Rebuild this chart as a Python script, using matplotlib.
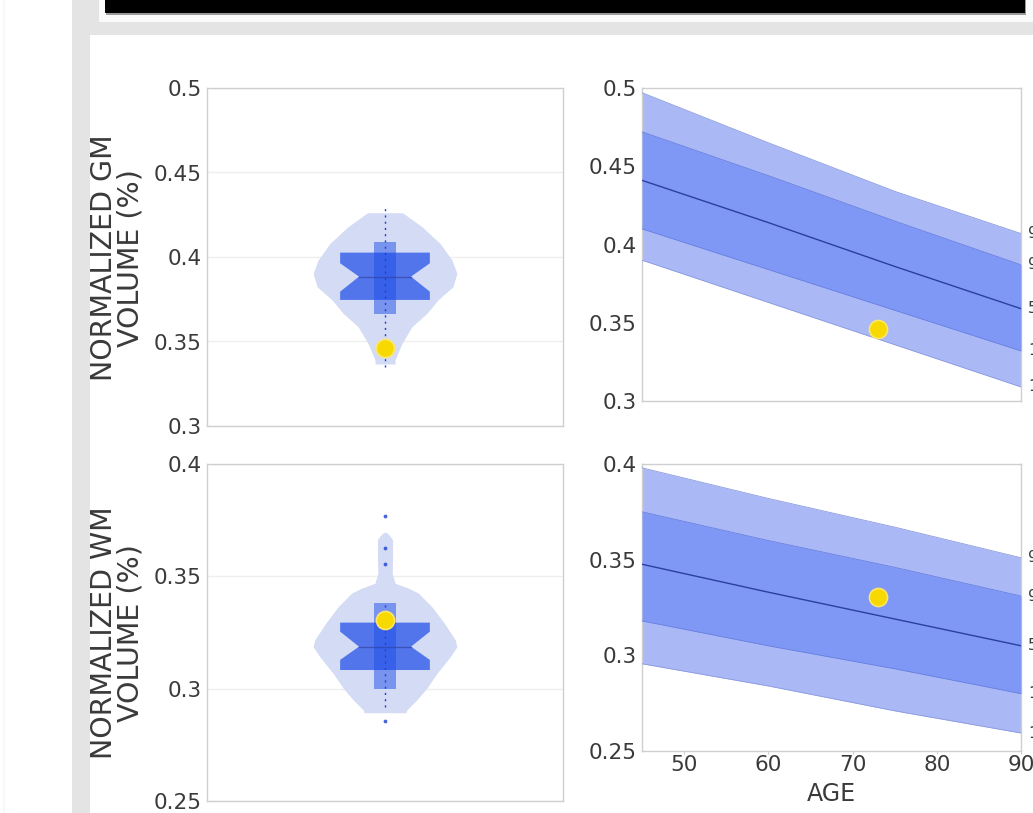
import matplotlib
matplotlib.use("Agg")
import matplotlib.pyplot as plt
from matplotlib.patches import Rectangle, Polygon
import numpy as np

plt.rcParams["font.family"] = ["DejaVu Sans"]

# ---------------- data ----------------
# GM violin profile (value, relative density)
gm_violin_vals = [0.4262, 0.4179, 0.4081, 0.3982, 0.3903, 0.3824, 0.3746, 0.3667, 0.3588, 0.3489, 0.3391, 0.3367]
gm_violin_dens = [0.243, 0.514, 0.764, 0.931, 1.000, 0.944, 0.736, 0.583, 0.375, 0.236, 0.139, 0.139]
gm_q1, gm_median, gm_q3 = 0.3746, 0.3884, 0.4026
gm_notch_lo, gm_notch_hi = 0.3795, 0.3963
gm_ci_lo, gm_ci_hi = 0.366, 0.409
gm_range = [0.335, 0.430]
gm_subject = 0.3460

# WM violin profile
wm_violin_vals = [0.3695, 0.3680, 0.3662, 0.3587, 0.3513, 0.3469, 0.3447, 0.3425, 0.3365, 0.3291,
                  0.3217, 0.3187, 0.3142, 0.3068, 0.3002, 0.2950, 0.2905, 0.2893]
wm_violin_dens = [0.02, 0.07, 0.105, 0.105, 0.10, 0.14, 0.33, 0.465, 0.65, 0.826,
                  0.977, 1.000, 0.907, 0.721, 0.581, 0.442, 0.302, 0.291]
wm_q1, wm_median, wm_q3 = 0.3083, 0.3187, 0.3294
wm_notch_lo, wm_notch_hi = 0.3128, 0.3254
wm_ci_lo, wm_ci_hi = 0.300, 0.338
wm_range = [0.292, 0.338]
wm_outliers = [0.2855, 0.3555, 0.3626, 0.3770]
wm_subject = 0.3306

# normative curves vs age
ages = [45, 60, 75, 90]
gm_p99 = [0.497, 0.465, 0.434, 0.407]
gm_p90 = [0.472, 0.444, 0.415, 0.387]
gm_p50 = [0.441, 0.414, 0.386, 0.359]
gm_p10 = [0.410, 0.384, 0.358, 0.332]
gm_p01 = [0.390, 0.363, 0.336, 0.309]

wm_p99 = [0.398, 0.382, 0.367, 0.351]
wm_p90 = [0.375, 0.360, 0.346, 0.331]
wm_p50 = [0.3476, 0.333, 0.319, 0.305]
wm_p10 = [0.318, 0.305, 0.293, 0.280]
wm_p01 = [0.2956, 0.284, 0.271, 0.2594]

subject_age = 73
pct_labels = ["99", "90", "50", "10", "1"]

gm_yticks = [0.3, 0.35, 0.4, 0.45, 0.5]
gm_yticklabels = ["0.3", "0.35", "0.4", "0.45", "0.5"]
wm_yticks = [0.25, 0.3, 0.35, 0.4]
wm_yticklabels = ["0.25", "0.3", "0.35", "0.4"]
age_ticks = [50, 60, 70, 80, 90]

# ---------------- style ----------------
W, H = 1033, 813
fig = plt.figure(figsize=(W / 100, H / 100), dpi=100)
fig.patch.set_facecolor("white")

def rect_px(x0, y0, x1, y1, z, **kw):
    fig.patches.append(Rectangle((x0 / W, 1 - y1 / H), (x1 - x0) / W, (y1 - y0) / H,
                                 transform=fig.transFigure, figure=fig, zorder=z, **kw))

def ax_px(l, t, r, b):
    ax = fig.add_axes([l / W, 1 - b / H, (r - l) / W, (b - t) / H])
    ax.set_zorder(5)
    return ax

GREY = "#e4e4e4"
rect_px(72, 0, W, H, -10, facecolor=GREY, edgecolor="none")
rect_px(90, 35, W, H, -9, facecolor="white", edgecolor="none")
rect_px(99, 0, W, 22, -9, facecolor="#fafafa", edgecolor="none")
rect_px(106, 0, 1026, 15, -8, facecolor="#9a9a9a", edgecolor="none")
rect_px(105, 0, 1025, 13, -7, facecolor="black", edgecolor="none")
rect_px(3, 0, 5, H, -9, facecolor="#f3f9fd", edgecolor="none")

TXT = "#3a3a3a"
SPINE = "#cfcfcf"
VIOLIN = "#d3dbf5"
BOX = "#5375ec"
CI = "#1f4fe8"
OUTER = "#aab9f5"
INNER = "#7f98f5"
MEDLINE = "#2c3f9e"
YELLOW = "#f7d900"

def style_axes(ax):
    for s in ax.spines.values():
        s.set_color(SPINE)
        s.set_linewidth(1.0)
    ax.tick_params(axis="y", length=0, labelsize=15.5, colors=TXT, pad=4)
    ax.tick_params(axis="x", length=0, labelsize=15.5, colors=TXT)

def violin(ax, vals, dens, q1, med, q3, nlo, nhi, cilo, cihi, rng, outliers, subj):
    c = 1.0
    scale = 0.202
    v = np.array(vals)
    d = np.array(dens) * scale
    ax.fill_betweenx(v, c - d, c + d, color=VIOLIN, lw=0, zorder=2)
    bw, nw = 0.126, 0.073
    poly = [(c - bw, q3), (c + bw, q3), (c + bw, nhi), (c + nw, med), (c + bw, nlo),
            (c + bw, q1), (c - bw, q1), (c - bw, nlo), (c - nw, med), (c - bw, nhi)]
    ax.add_patch(Polygon(poly, closed=True, facecolor=BOX, edgecolor="none", zorder=3))
    ax.add_patch(Rectangle((c - 0.03, cilo), 0.06, cihi - cilo, facecolor=CI,
                           alpha=0.5, edgecolor="none", zorder=4))
    ax.plot([c - nw, c + nw], [med, med], color=MEDLINE, lw=1.0, alpha=0.6, zorder=5)
    ax.plot([c, c], rng, color="#2040d0", lw=1.0, ls=(0, (1.5, 3)), zorder=5)
    if outliers:
        ax.plot([c] * len(outliers), outliers, ls="none", marker="o", ms=1.8,
                color="#2040d0", alpha=0.7, zorder=5)
    ax.plot([c], [subj], ls="none", marker="o", ms=13, color=YELLOW,
            markeredgecolor="#fbe66a", markeredgewidth=1.2, zorder=6)
    ax.set_xlim(0.5, 1.5)
    ax.set_xticks([])
    ax.yaxis.grid(True, color="#efefef", lw=1.0)
    ax.set_axisbelow(True)
    style_axes(ax)

def bands(ax, p99, p90, p50, p10, p01, subj):
    ax.fill_between(ages, p01, p99, color=OUTER, lw=0, zorder=2)
    ax.fill_between(ages, p10, p90, color=INNER, lw=0, zorder=3)
    for arr in (p99, p01):
        ax.plot(ages, arr, color="#8a9ae0", lw=0.6, zorder=3)
    for arr in (p90, p10):
        ax.plot(ages, arr, color="#6a80e0", lw=0.6, zorder=4)
    ax.plot(ages, p50, color=MEDLINE, lw=1.0, zorder=5)
    for lab, arr in zip(pct_labels, (p99, p90, p50, p10, p01)):
        ax.annotate(lab, (ages[-1], arr[-1]), xytext=(5, 0), textcoords="offset points",
                    fontsize=11, color=TXT, va="center", ha="left", annotation_clip=False)
    ax.plot([subject_age], [subj], ls="none", marker="o", ms=13, color=YELLOW,
            markeredgecolor="#fbe66a", markeredgewidth=1.2, zorder=6)
    ax.set_xlim(45, 90)
    style_axes(ax)

# top-left: GM violin
ax1 = ax_px(207, 88, 563, 426)
violin(ax1, gm_violin_vals, gm_violin_dens, gm_q1, gm_median, gm_q3, gm_notch_lo, gm_notch_hi,
       gm_ci_lo, gm_ci_hi, gm_range, [], gm_subject)
ax1.set_ylim(0.3, 0.5)
ax1.set_yticks(gm_yticks)
ax1.set_yticklabels(gm_yticklabels)

# bottom-left: WM violin
ax2 = ax_px(207, 464, 563, 801)
violin(ax2, wm_violin_vals, wm_violin_dens, wm_q1, wm_median, wm_q3, wm_notch_lo, wm_notch_hi,
       wm_ci_lo, wm_ci_hi, wm_range, wm_outliers, wm_subject)
ax2.set_ylim(0.25, 0.4)
ax2.set_yticks(wm_yticks)
ax2.set_yticklabels(wm_yticklabels)

# top-right: GM vs age
ax3 = ax_px(642, 88, 1021, 401)
bands(ax3, gm_p99, gm_p90, gm_p50, gm_p10, gm_p01, gm_subject)
ax3.set_ylim(0.3, 0.5)
ax3.set_yticks(gm_yticks)
ax3.set_yticklabels(gm_yticklabels)
ax3.set_xticks([])

# bottom-right: WM vs age
ax4 = ax_px(642, 464, 1021, 751)
bands(ax4, wm_p99, wm_p90, wm_p50, wm_p10, wm_p01, wm_subject)
ax4.set_ylim(0.25, 0.4)
ax4.set_yticks(wm_yticks)
ax4.set_yticklabels(wm_yticklabels)
ax4.set_xticks(age_ticks)
ax4.set_xticklabels([str(a) for a in age_ticks])
ax4.tick_params(axis="x", length=2, color=SPINE, pad=1)
ax4.set_xlabel("AGE", fontsize=17, color=TXT, labelpad=5)

fig.text(117 / W, 1 - 258 / H, "NORMALIZED GM\nVOLUME (%)", rotation=90, ha="center",
         va="center", fontsize=20.5, color=TXT, linespacing=0.95, zorder=6)
fig.text(117 / W, 1 - 633 / H, "NORMALIZED WM\nVOLUME (%)", rotation=90, ha="center",
         va="center", fontsize=20.5, color=TXT, linespacing=0.95, zorder=6)

fig.savefig("out.png", dpi=100, facecolor=fig.get_facecolor())
